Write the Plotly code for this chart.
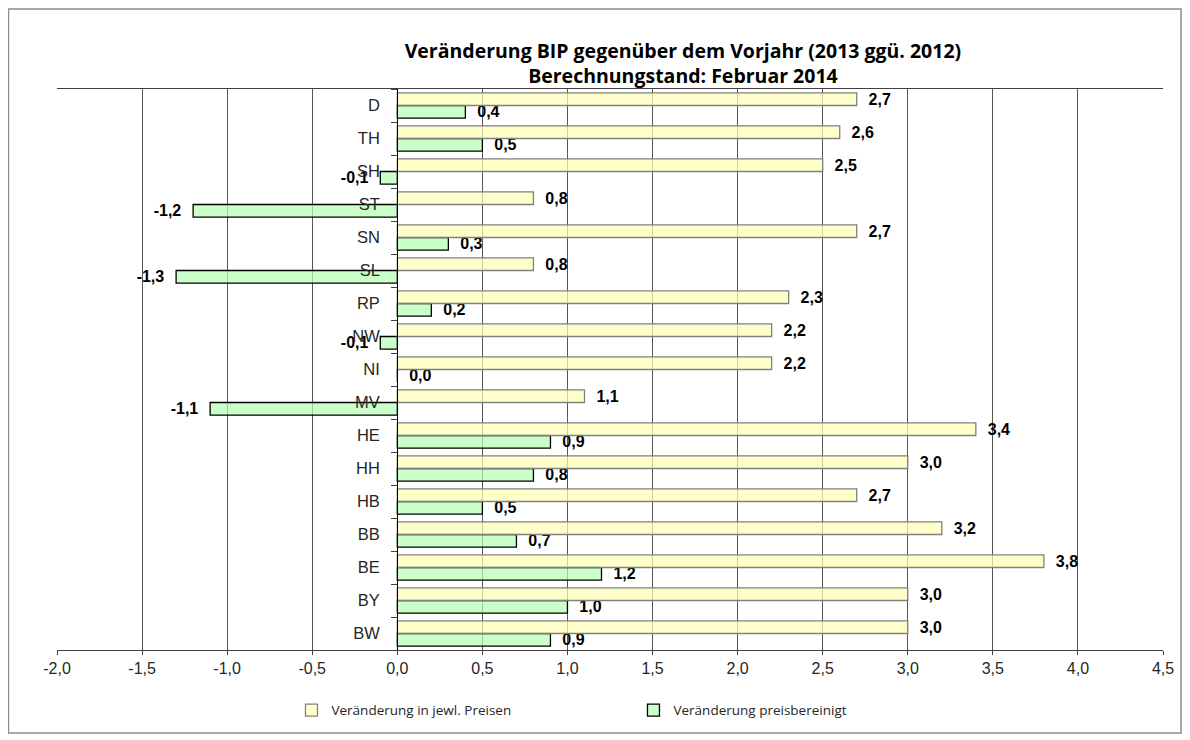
import plotly.graph_objects as go

# bottom-to-top, as the categories stack on the y axis
laender = ["BW", "BY", "BE", "BB", "HB", "HH", "HE", "MV", "NI",
           "NW", "RP", "SL", "SN", "ST", "SH", "TH", "D"]
jewl_preise = [3.0, 3.0, 3.8, 3.2, 2.7, 3.0, 3.4, 1.1, 2.2,
               2.2, 2.3, 0.8, 2.7, 0.8, 2.5, 2.6, 2.7]
preisbereinigt = [0.9, 1.0, 1.2, 0.7, 0.5, 0.8, 0.9, -1.1, 0.0,
                  -0.1, 0.2, -1.3, 0.3, -1.2, -0.1, 0.5, 0.4]
x_ticks = [-2.0, -1.5, -1.0, -0.5, 0.0, 0.5, 1.0, 1.5, 2.0, 2.5, 3.0, 3.5, 4.0, 4.5]

x_min, x_max = -2.0, 4.5
PAD = "\u00a0\u00a0"  # small gap between bar end and its label


def de(v):
    return f"{v:.1f}".replace(".", ",")


def labels(vals):
    out = []
    for v in vals:
        s = "<b>" + de(v) + "</b>"
        out.append(s + PAD if v < 0 else PAD + s)
    return out


fig = go.Figure()

# green first so it sits below the yellow bar inside each group
fig.add_trace(go.Bar(
    y=laender, x=preisbereinigt, orientation="h",
    name="Veränderung preisbereinigt",
    marker=dict(color="rgba(182,255,182,0.72)", line=dict(color="#000000", width=1.3)),
    text=labels(preisbereinigt), textposition="outside", constraintext="none",
    textfont=dict(family="Liberation Sans", size=16, color="#000000"),
    cliponaxis=False, legendrank=2,
))
fig.add_trace(go.Bar(
    y=laender, x=jewl_preise, orientation="h",
    name="Veränderung in jewl. Preisen",
    marker=dict(color="rgba(255,255,182,0.72)", line=dict(color="#808080", width=1.3)),
    text=labels(jewl_preise), textposition="outside", constraintext="none",
    textfont=dict(family="Liberation Sans", size=16, color="#000000"),
    cliponaxis=False, legendrank=1,
))

# y axis crosses at x = 0, like in the spreadsheet
y_pos = (0 - x_min) / (x_max - x_min)

fig.update_layout(
    width=1182, height=732,
    margin=dict(l=49, r=27, t=81, b=90),
    paper_bgcolor="white", plot_bgcolor="white",
    separators=",.",
    barmode="group", bargap=0.24, bargroupgap=0,
    title=dict(
        text="<b>Veränderung BIP gegenüber dem Vorjahr (2013 ggü. 2012)<br>Berechnungstand: Februar 2014</b>",
        x=0.571, xanchor="center", y=0.932, yanchor="middle",
        font=dict(family="Open Sans", size=19.5, color="#000000"),
    ),
    xaxis=dict(
        range=[x_min, x_max], tickvals=x_ticks, ticktext=[de(t) for t in x_ticks],
        showgrid=True, gridcolor="#555555", gridwidth=1,
        zeroline=False, showline=True, mirror=True, linecolor="#404040", linewidth=1,
        ticks="outside", ticklen=4, tickcolor="#404040",
        tickfont=dict(family="Liberation Sans", size=16, color="#262626"),
        fixedrange=True,
    ),
    yaxis=dict(
        anchor="free", position=y_pos,
        categoryorder="array", categoryarray=laender,
        showline=True, linecolor="#000000", linewidth=1.3,
        ticks="outside", tickson="boundaries", ticklen=6, tickcolor="#404040",
        showgrid=False, zeroline=False,
        tickfont=dict(family="Liberation Sans", size=16.5, color="#262626"),
        ticklabelstandoff=14,
    ),
    legend=dict(
        orientation="h", x=0.212, xanchor="left", y=-0.080, yanchor="top",
        font=dict(family="Open Sans", size=13.5, color="#262626"),
        entrywidth=297, itemwidth=30, bgcolor="rgba(0,0,0,0)",
    ),
    shapes=[dict(
        type="rect", xref="paper", yref="paper",
        x0=-0.0439, x1=1.0163, y0=-0.148, y1=1.1426,
        line=dict(color="#8c8c8c", width=1.5), layer="below",
    )],
)

fig.write_html("out.html")
